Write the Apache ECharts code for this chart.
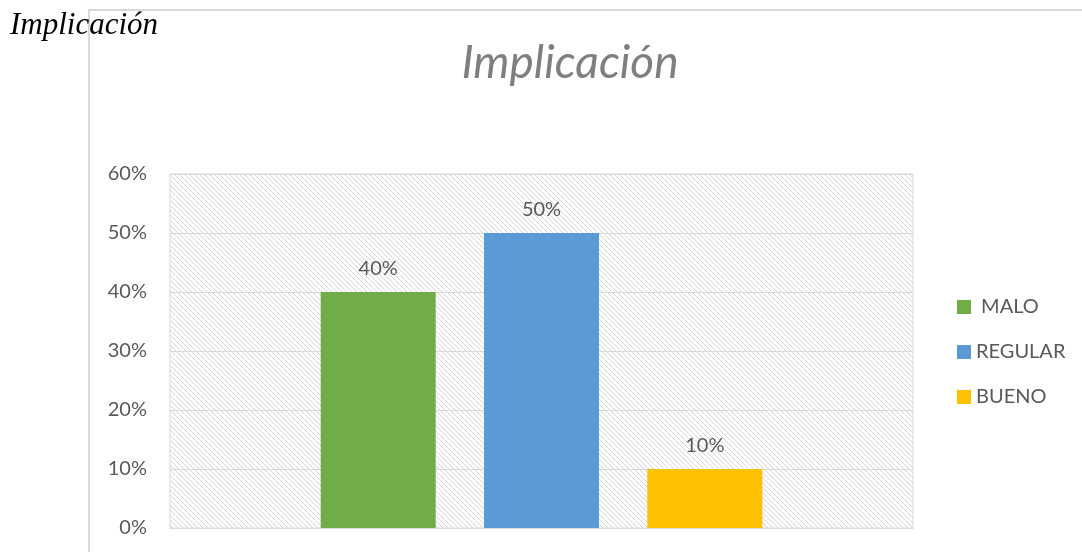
<!DOCTYPE html>
<html><head><meta charset="utf-8">
<script src="https://cdn.jsdelivr.net/npm/echarts@6/dist/echarts.min.js"></script>
<style>html,body{margin:0;padding:0;background:#fff}#c{width:1082px;height:552px}</style>
</head><body><div id="c"></div>
<script>
const categories = [''];
const seriesNames = [' MALO', 'REGULAR', 'BUENO'];
const malo = [0.40];
const regular = [0.50];
const bueno = [0.10];
const yTicks = ['0%','10%','20%','30%','40%','50%','60%'];
const colors = ['#70AD47', '#5B9BD5', '#FFC000'];

// hatch pattern
const pc = document.createElement('canvas');
pc.width = 5; pc.height = 5;
const ctx = pc.getContext('2d');
ctx.fillStyle = '#ffffff'; ctx.fillRect(0,0,5,5);
ctx.strokeStyle = '#d6d6d6'; ctx.lineWidth = 1;
ctx.beginPath();
ctx.moveTo(-1,-1); ctx.lineTo(6,6);
ctx.moveTo(-1,4); ctx.lineTo(1,6);
ctx.moveTo(4,-1); ctx.lineTo(6,1);
ctx.stroke();

const FONT = 'Lato, Open Sans, sans-serif';
const chart = echarts.init(document.getElementById('c'));
const labelStyle = {show:true, position:'top', color:'#595959', fontSize:20, fontFamily:FONT, distance:13,
  formatter: p => Math.round(p.value*100) + '%'};
const vals = [malo, regular, bueno];
chart.setOption({
  animation:false,
  title:{text:'Implicación', left:565, top:35, textAlign:'center',
    textStyle:{fontSize:46, fontStyle:'italic', fontWeight:'normal', color:'#7f7f7f', fontFamily:FONT}},
  graphic:[
    {type:'rect', shape:{x:89, y:10, width:1100, height:600}, style:{fill:'none', stroke:'#d9d9d9', lineWidth:2}, z:-10},
    {type:'text', left:10, top:10, style:{text:'Implicación', font:'italic 31px "Liberation Serif", "DejaVu Serif", serif', fill:'#000'}}
  ],
  legend:{orient:'vertical', left:952, top:292, itemGap:25, itemWidth:14, itemHeight:14, itemGap:25, icon:'rect',
    data:seriesNames,
    textStyle:{fontSize:20, lineHeight:20, color:'#595959', fontFamily:FONT}},
  grid:{left:170, right:169, top:174, bottom:24, show:true, borderColor:'#d9d9d9', borderWidth:1,
    backgroundColor:{image:pc, repeat:'repeat'}},
  xAxis:{type:'category', data:categories, axisLine:{show:true, lineStyle:{color:'#d9d9d9'}}, axisTick:{show:false}, axisLabel:{show:false}},
  yAxis:{type:'value', min:0, max:0.6, interval:0.1,
    axisLine:{show:false}, axisTick:{show:false},
    splitLine:{lineStyle:{color:'#d9d9d9', width:1}},
    axisLabel:{margin:23, color:'#595959', fontSize:20, fontFamily:FONT,
      formatter: v => yTicks[Math.round(v*10)]}},
  series: seriesNames.map((n,i)=>({name:n, type:'bar', data:vals[i], barWidth:115, barGap:'42%',
    itemStyle:{color:colors[i]}, label:labelStyle}))
});
</script></body></html>
